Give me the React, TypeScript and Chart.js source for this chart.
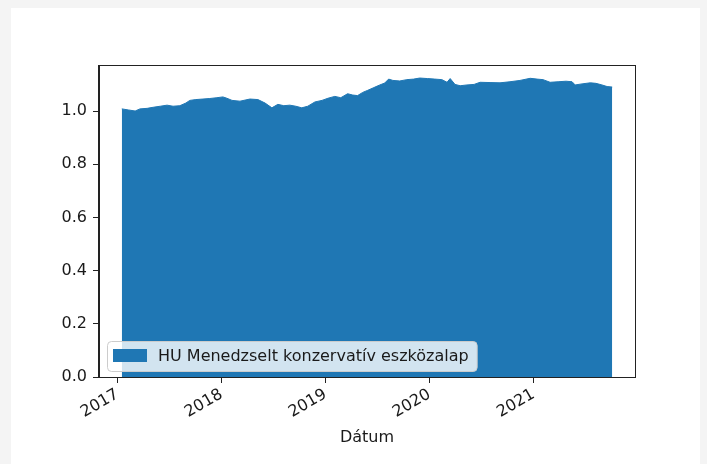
import React, { useEffect, useRef } from 'react';
import { Chart, registerables } from 'chart.js';

Chart.register(...registerables);

const seriesLabel = 'HU Menedzselt konzervatív eszközalap';
const xTitle = 'Dátum';

const dates = [
  '2017-01-16', '2017-02-08', '2017-03-04', '2017-03-21', '2017-04-15', '2017-05-06',
  '2017-05-31', '2017-06-24', '2017-07-15', '2017-08-08', '2017-08-29', '2017-09-12',
  '2017-10-03', '2017-10-28', '2017-11-21', '2017-12-16', '2018-01-06', '2018-01-20',
  '2018-02-07', '2018-03-07', '2018-04-11', '2018-05-09', '2018-06-03', '2018-06-27',
  '2018-07-18', '2018-08-08', '2018-08-29', '2018-09-19', '2018-10-10', '2018-10-31',
  '2018-11-25', '2018-12-20', '2019-01-10', '2019-02-03', '2019-02-24', '2019-03-20',
  '2019-04-07', '2019-04-24', '2019-05-12', '2019-05-30', '2019-06-20', '2019-07-11',
  '2019-07-28', '2019-08-11', '2019-08-26', '2019-09-19', '2019-10-14', '2019-11-07',
  '2019-11-28', '2019-12-26', '2020-01-20', '2020-02-14', '2020-03-03', '2020-03-14',
  '2020-03-31', '2020-04-18', '2020-05-12', '2020-06-06', '2020-06-27', '2020-08-01',
  '2020-09-05', '2020-10-10', '2020-11-14', '2020-12-20', '2021-01-13', '2021-02-03',
  '2021-02-28', '2021-03-28', '2021-04-25', '2021-05-16', '2021-05-27', '2021-06-20',
  '2021-07-19', '2021-08-08', '2021-08-29', '2021-09-16', '2021-10-04',
];

const values = [
  1.008, 1.004, 1.000, 1.008, 1.010, 1.014,
  1.018, 1.022, 1.018, 1.020, 1.030, 1.040,
  1.043, 1.045, 1.047, 1.050, 1.053, 1.048,
  1.040, 1.037, 1.045, 1.043, 1.030, 1.012,
  1.025, 1.020, 1.022, 1.018, 1.012, 1.018,
  1.034, 1.040, 1.048, 1.055, 1.050, 1.065,
  1.060, 1.058, 1.070, 1.078, 1.088, 1.098,
  1.105, 1.120, 1.115, 1.113, 1.118, 1.120,
  1.124, 1.122, 1.120, 1.118, 1.108, 1.122,
  1.100, 1.095, 1.098, 1.100, 1.108, 1.107,
  1.106, 1.110, 1.115, 1.123, 1.120, 1.118,
  1.108, 1.110, 1.112, 1.110, 1.098, 1.102,
  1.106, 1.104, 1.098, 1.092, 1.090,
];

const yTicks = [0, 0.2, 0.4, 0.6, 0.8, 1.0];
const xTickYears = [2017, 2018, 2019, 2020, 2021];

const FONT = '"DejaVu Sans", sans-serif';
const FONT_SIZE = 16;
const TEXT = '#1a1a1a';

const framePlugin = {
  id: 'mplFrame',
  afterDraw(chart: any) {
    const { ctx, chartArea } = chart;
    ctx.save();
    ctx.strokeStyle = '#222';
    ctx.lineWidth = 1;
    const l = Math.round(chartArea.left) - 0.5;
    const t = Math.round(chartArea.top) + 0.5;
    const r = Math.round(chartArea.right) + 0.5;
    const b = Math.round(chartArea.bottom) + 0.5;
    ctx.strokeRect(l, t, r - l, b - t);
    ctx.restore();
  },
};

const legendPlugin = {
  id: 'mplLegend',
  afterDatasetsDraw(chart: any) {
    const { ctx, chartArea } = chart;
    const ds = chart.data.datasets[0];
    ctx.save();
    ctx.font = `${FONT_SIZE}px ${FONT}`;
    const tw = ctx.measureText(ds.label).width;
    const h = 30;
    const x = chartArea.left + 8;
    const y = chartArea.bottom - 6 - h;
    const w = 6 + 34 + 11 + tw + 8;
    ctx.beginPath();
    (ctx as any).roundRect(x + 0.5, y + 0.5, w, h, 4);
    ctx.fillStyle = 'rgba(255,255,255,0.8)';
    ctx.fill();
    ctx.strokeStyle = '#cccccc';
    ctx.lineWidth = 1;
    ctx.stroke();
    ctx.fillStyle = ds.backgroundColor;
    ctx.fillRect(x + 6, y + 8, 34, 13);
    ctx.fillStyle = TEXT;
    ctx.textBaseline = 'middle';
    ctx.textAlign = 'left';
    ctx.fillText(ds.label, x + 51, y + h / 2 + 0.5);
    ctx.restore();
  },
};

export default function App() {
  const canvasRef = useRef<HTMLCanvasElement | null>(null);

  useEffect(() => {
    const canvas = canvasRef.current;
    if (!canvas) return;
    const points = dates.map((d, i) => ({ x: Date.parse(d), y: values[i] }));
    const chart = new Chart(canvas, {
      type: 'line',
      data: {
        datasets: [
          {
            label: seriesLabel,
            data: points,
            borderColor: '#1f77b4',
            backgroundColor: '#1f77b4',
            fill: 'origin',
            pointRadius: 0,
            borderWidth: 1,
            tension: 0,
          },
        ],
      },
      options: {
        animation: false,
        responsive: false,
        devicePixelRatio: 1,
        layout: { padding: { left: 59, top: 65, right: 72, bottom: 17 } },
        plugins: {
          legend: { display: false },
          tooltip: { enabled: false },
        },
        scales: {
          x: {
            type: 'linear',
            min: Date.parse('2016-10-28'),
            max: Date.parse('2021-12-23'),
            afterBuildTicks: (s: any) => {
              s.ticks = xTickYears.map((yr) => ({ value: Date.UTC(yr, 0, 1) }));
            },
            afterFit: (s: any) => {
              s.height = 70;
            },
            ticks: {
              autoSkip: false,
              minRotation: 30,
              maxRotation: 30,
              padding: 2,
              color: TEXT,
              font: { family: FONT, size: FONT_SIZE },
              callback: (v: any) => String(new Date(Number(v)).getUTCFullYear()),
            },
            grid: {
              display: true,
              drawOnChartArea: false,
              drawTicks: true,
              tickLength: 6,
              color: '#222',
            },
            border: { display: true, color: '#222', width: 1 },
            title: {
              display: true,
              text: xTitle,
              color: TEXT,
              font: { family: FONT, size: FONT_SIZE },
              padding: 0,
            },
          },
          y: {
            type: 'linear',
            min: 0,
            max: 1.173,
            afterBuildTicks: (s: any) => {
              s.ticks = yTicks.map((v) => ({ value: v }));
            },
            afterFit: (s: any) => {
              s.width = 40;
            },
            ticks: {
              padding: 6,
              color: TEXT,
              font: { family: FONT, size: FONT_SIZE },
              callback: (v: any) => Number(v).toFixed(1),
            },
            grid: {
              display: true,
              drawOnChartArea: false,
              drawTicks: true,
              tickLength: 6,
              color: '#222',
            },
            border: { display: true, color: '#222', width: 1 },
          },
        },
      },
      plugins: [legendPlugin, framePlugin],
    });
    return () => chart.destroy();
  }, []);

  return (
    <div
      style={{
        position: 'fixed',
        left: 0,
        top: 0,
        width: 707,
        height: 464,
        background: '#f4f4f4',
        overflow: 'hidden',
      }}
    >
      <div
        style={{
          position: 'absolute',
          left: 11,
          top: 8,
          width: 689,
          height: 456,
          background: '#ffffff',
        }}
      />
      <canvas
        ref={canvasRef}
        width={707}
        height={464}
        style={{ position: 'absolute', left: 0, top: 0, width: 707, height: 464 }}
      />
    </div>
  );
}
